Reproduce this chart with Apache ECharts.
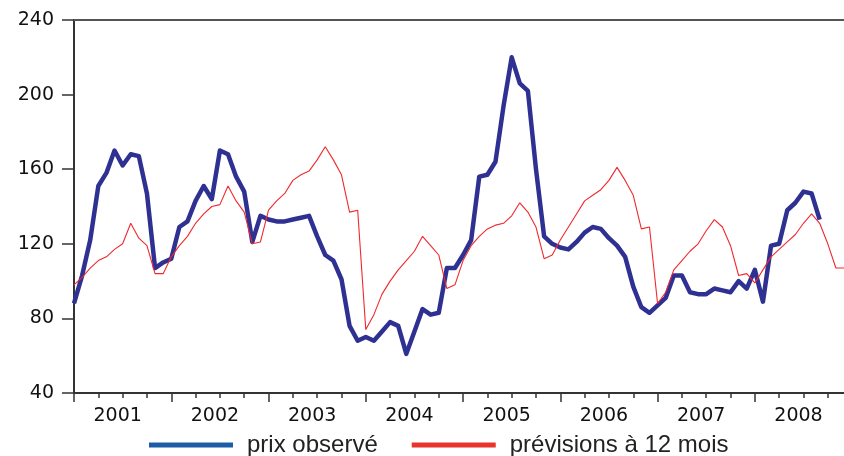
<!DOCTYPE html>
<html>
<head>
<meta charset="utf-8">
<script src="https://cdn.jsdelivr.net/npm/echarts@6/dist/echarts.min.js"></script>
<style>html,body{margin:0;padding:0;background:#fff}#c{width:844px;height:456px}</style>
</head>
<body>
<div id="c"></div>
<script>
// Monthly data, index 0 = January 2001
var years = ['2001','2002','2003','2004','2005','2006','2007','2008'];
var seriesNames = ['prix observé', 'prévisions à 12 mois'];
var prixObserve = [88,103,122,151,158,170,162,168,167,147,107,110,
  112,129,132,143,151,144,170,168,156,148,121,135,
  133,132,132,133,134,135,124,114,111,101,76,68,
  70,68,73,78,76,61,73,85,82,83,107,107,
  114,122,156,157,164,194,220,206,202,160,124,120,
  118,117,121,126,129,128,123,119,113,97,86,83,
  87,91,103,103,94,93,93,96,95,94,100,96,
  106,89,119,120,138,142,148,147,133];
var previsions = [98,102,107,111,113,117,120,131,123,119,104,104,
  113,119,124,131,136,140,141,151,143,137,120,121,
  138,143,147,154,157,159,165,172,165,157,137,138,
  74,82,93,100,106,111,116,124,119,114,96,98,
  111,119,124,128,130,131,135,142,137,129,112,114,
  122,129,136,143,146,149,154,161,154,146,128,129,
  88,94,106,111,116,120,127,133,129,119,103,104,
  99,106,113,117,121,125,131,136,131,120,107,107];
var yTicks = [40,80,120,160,200,240];

var nMonths = 95;
var quarterTicks = [], yearTicks = [], yearLabelPos = [];
for (var q = 0; q < nMonths; q += 3) quarterTicks.push(q);
for (var y = 0; y < years.length; y++) { yearTicks.push(y * 12); yearLabelPos.push(y * 12 + 6); }

function toPairs(arr) { return arr.map(function (v, i) { return [i, v]; }); }

var chart = echarts.init(document.getElementById('c'), null, {renderer: 'canvas'});
var axisFont = {fontFamily: 'DejaVu Sans', fontSize: 19, color: '#111'};
chart.setOption({
  animation: false,
  backgroundColor: '#fff',
  grid: {left: 74, right: 0, top: 20, bottom: 63, containLabel: false},
  legend: {
    left: 144, top: 428,
    icon: 'rect', itemWidth: 84, itemHeight: 5, itemGap: 34,
    textStyle: {fontFamily: 'Liberation Sans', fontSize: 24, color: '#222', padding: [0, 0, 0, 9]},
    data: [
      {name: seriesNames[0], itemStyle: {color: '#1f5ca8'}},
      {name: seriesNames[1], itemStyle: {color: '#e8342c'}}
    ]
  },
  xAxis: [
    {
      type: 'value', min: 0, max: nMonths, position: 'bottom',
      splitLine: {show: false},
      axisLine: {show: true, lineStyle: {color: '#333', width: 2}},
      axisTick: {show: true, length: 5, customValues: quarterTicks, lineStyle: {color: '#333', width: 1.5}},
      axisLabel: Object.assign({show: true, margin: 14, customValues: yearLabelPos, padding: [0, 10, 0, 0],
        formatter: function (v) { var k = (v - 6) / 12; return years[k] || ''; }}, axisFont)
    },
    {
      type: 'value', min: 0, max: nMonths, position: 'bottom',
      splitLine: {show: false},
      axisLine: {show: false},
      axisTick: {show: true, length: 9, customValues: yearTicks, lineStyle: {color: '#333', width: 1.5}},
      axisLabel: {show: false}
    },
    {
      type: 'value', min: 0, max: nMonths, position: 'top',
      splitLine: {show: false},
      axisLine: {show: true, lineStyle: {color: '#555', width: 2}},
      axisTick: {show: false},
      axisLabel: {show: false}
    }
  ],
  yAxis: {
    type: 'value', min: yTicks[0], max: yTicks[yTicks.length - 1], interval: 40,
    splitLine: {show: false},
    axisLine: {show: true, lineStyle: {color: '#333', width: 2}},
    axisTick: {show: true, length: 12, lineStyle: {color: '#333', width: 1.5}},
    axisLabel: Object.assign({margin: 20}, axisFont)
  },
  series: [
    {
      name: seriesNames[0], type: 'line', xAxisIndex: 0, data: toPairs(prixObserve),
      showSymbol: false, symbol: 'none', z: 3,
      itemStyle: {color: '#2e3192'},
      lineStyle: {color: '#2e3192', width: 4.5, join: 'round'}
    },
    {
      name: seriesNames[1], type: 'line', xAxisIndex: 0, data: toPairs(previsions),
      showSymbol: false, symbol: 'none', z: 4,
      itemStyle: {color: '#f0282d'},
      lineStyle: {color: '#f0282d', width: 1.1}
    }
  ]
});
</script>
</body>
</html>
